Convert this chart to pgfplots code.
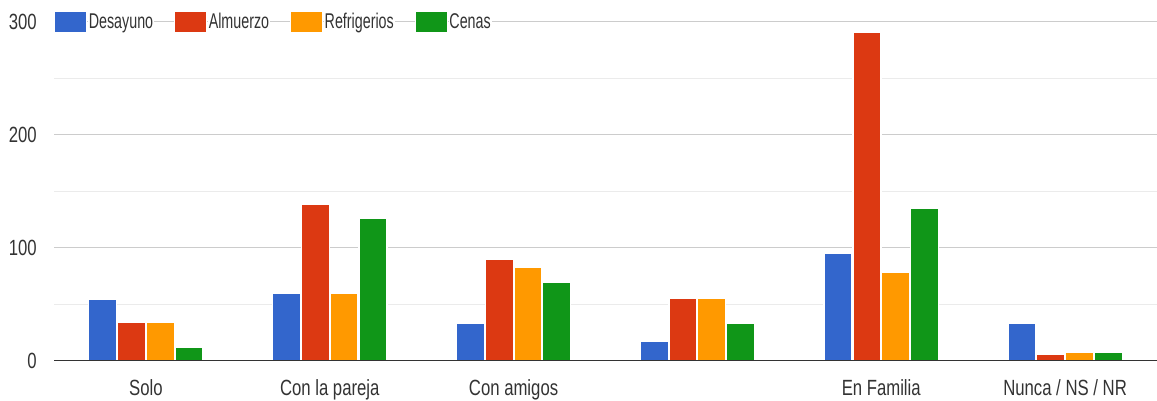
\documentclass[border=0pt]{standalone}
\usepackage{fontspec}
\setmainfont{Liberation Sans}[FakeStretch=0.76]
\newfontfamily\legfont{Liberation Sans}[FakeStretch=0.67]
\usepackage{pgfplots}
\usepackage{pgfplotstable}
\pgfplotsset{compat=1.18}

\definecolor{cDes}{HTML}{3366CC}
\definecolor{cAlm}{HTML}{DC3912}
\definecolor{cRef}{HTML}{FF9900}
\definecolor{cCen}{HTML}{109618}
\definecolor{txt}{HTML}{333333}
\definecolor{gridmaj}{HTML}{CCCCCC}
\definecolor{gridmin}{HTML}{EBEBEB}

% cat: 0 Solo, 1 Con la pareja, 2 Con amigos, 3 (sin nombre), 4 En Familia, 5 Nunca/NS/NR
\pgfplotstableread{
cat des alm ref cen
0   54  34  34  12
1   60  138 60  126
2   33  90  83  69
3   17  55  55  33
4   95  291 78  135
5   33  6   7   7
}\comidas

\begin{document}
\begin{tikzpicture}
\begin{axis}[
  name=ax,
  scale only axis,
  width=827.25pt, height=254.25pt,
  xmin=-0.5, xmax=5.5,
  ymin=0, ymax=300,
  ybar=0.6pt, bar width=21pt,
  xtick=data,
  xticklabels={Solo,Con la pareja,Con amigos,{},En Familia,Nunca / NS / NR},
  ytick={0,100,200,300},
  minor y tick num=1,
  ymajorgrids, yminorgrids,
  major grid style={gridmaj, line width=0.9pt},
  minor grid style={gridmin, line width=0.9pt},
  axis line style={draw=none},
  major tick length=0pt, minor tick length=0pt,
  tick style={draw=none},
  /pgf/number format/assume math mode=true,
  every tick label/.append style={font=\fontsize{16.5}{19}\selectfont, text=txt},
  yticklabel style={anchor=east, inner sep=0pt, xshift=-12.75pt},
  xticklabel style={anchor=base, inner sep=0pt, yshift=-26.25pt},
  legend columns=-1,
  legend style={
    at={(0,1)}, anchor=west, draw=none, fill=none,
    inner sep=0pt, outer sep=0pt,
    font=\legfont\fontsize{16}{19}\selectfont, text=txt,
    nodes={fill=white, inner xsep=0.6pt, inner ysep=1pt},
    /tikz/every even column/.append style={column sep=15pt},
    /tikz/every odd column/.append style={column sep=1pt},
  },
  legend image code/.code={\path[#1, line width=0.5pt] (0pt,-7.9pt) rectangle (24pt,7.9pt);},
  every axis plot/.append style={draw=white, line width=1pt},
]
\addplot[fill=cDes] table[x=cat, y=des] {\comidas};
\addplot[fill=cAlm] table[x=cat, y=alm] {\comidas};
\addplot[fill=cRef] table[x=cat, y=ref] {\comidas};
\addplot[fill=cCen] table[x=cat, y=cen] {\comidas};
\legend{Desayuno,Almuerzo,Refrigerios,Cenas}
% baseline of the value axis, above the bars
\draw[color=black!80, line width=1.4pt] (axis cs:-0.5,0) -- (axis cs:5.5,0);
\end{axis}
\pgfresetboundingbox
\path[use as bounding box] (-40.5pt,-29.5pt) rectangle (827.25pt,270.5pt);
\end{tikzpicture}
\end{document}
